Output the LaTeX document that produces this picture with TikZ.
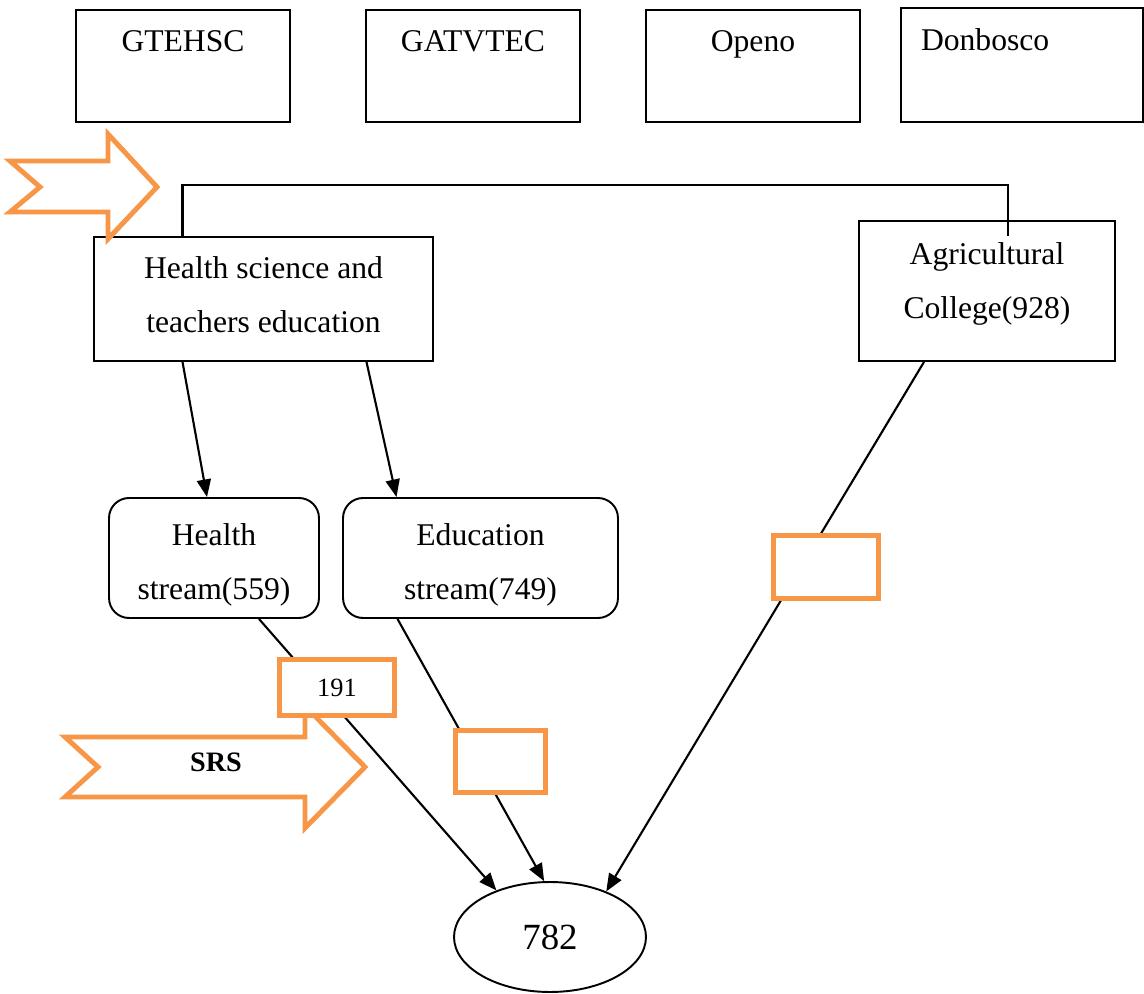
\documentclass[tikz,border=0pt]{standalone}
\usepackage{fontspec}
\setmainfont{Liberation Serif}
\usepackage{xcolor}
\usepackage{tikz}
\usetikzlibrary{arrows.meta, positioning, shapes.geometric, calc}

\definecolor{srsorange}{HTML}{F79646}

\begin{document}
\begin{tikzpicture}[x=0.02cm, y=-0.02cm,
    txt/.style={font=\fontsize{18}{31}\selectfont, align=center},
    topbox/.style={draw, line width=1.1pt, txt, inner sep=0pt, minimum width=4.28cm,
        text height=0.82cm, text depth=1.42cm},
    bigbox/.style={draw, line width=1.1pt, txt, inner sep=0pt, text depth=0.2cm},
    streambox/.style={draw, line width=1.1pt, rounded corners=0.4cm, txt, inner sep=0pt,
        minimum height=2.4cm, text height=1.88cm, text depth=0.2cm},
    obox/.style={draw=srsorange, line width=2.8pt, fill=white, inner sep=0pt,
        font=\fontsize{15}{18}\selectfont},
    chev/.style={draw=srsorange, line width=2.8pt, miter limit=10},
    arr/.style={line width=1.2pt, -{Triangle[length=10pt, width=8pt]}}]
    \useasboundingbox (0,0) rectangle (1144,994);

    % Colleges on top
    \foreach \name/\x in {GTEHSC/183, GATVTEC/473, Openo/753} {
        \node[topbox] (\name) at (\x,66) {\name};
    }
    \node[topbox, minimum width=0pt, text width=4.04cm, align=left, inner xsep=0.4cm,
        text height=0.84cm, text depth=1.44cm] (donbosco) at (1022,65) {Donbosco};

    % Selected colleges
    \node[bigbox, minimum width=6.78cm, minimum height=2.48cm, text height=1.56cm] (hsci)
        at (263.5,299) {Health science and\\teachers education};
    \node[bigbox, minimum width=5.12cm, minimum height=2.8cm, text height=1.3cm] (agr)
        at (987,291) {Agricultural\\College(928)};

    % Streams
    \node[streambox, minimum width=4.2cm] (hstream) at (214,558) {Health\\stream(559)};
    \node[streambox, minimum width=5.5cm] (estream) at (480.5,558) {Education\\stream(749)};

    % Sample
    \node[draw, ellipse, line width=1.1pt, inner sep=0pt, minimum width=3.84cm,
        minimum height=2.2cm, font=\fontsize{21}{24}\selectfont] (total) at (550,937) {782};

    % Orange arrows
    \draw[chev] (10,161) -- (108,161) -- (108,134) -- (157,187) -- (108,239) -- (108,212)
        -- (10,212) -- (40,187) -- cycle;
    \draw[chev] (65,737) -- (305,737) -- (305,706) -- (365,767) -- (305,828) -- (305,797)
        -- (65,797) -- (98,767) -- cycle;
    \node[font=\fontsize{16}{18}\selectfont\bfseries] (srs) at (216,762) {SRS};

    % Connectors
    \draw[line width=1.2pt] ($(hsci.north)+(-81,0)$) -- ++(0,-51) -| ($(agr.north)+(21,16)$);
    \draw[arr] ($(hsci.south)+(-81,0)$) -- ($(hstream.north)+(-7,0)$);
    \draw[arr] ($(hsci.south)+(103,0)$) -- ($(estream.north)+(-84,0)$);
    \draw[arr] ($(hstream.south)+(45,0)$) -- (total.139);
    \draw[arr] ($(estream.south)+(-83,0)$) -- (total.96);
    \draw[arr] ($(agr.south)+(-63,0)$) -- (total.39);

    % Sample sizes
    \node[obox, minimum width=2.3cm, minimum height=1.12cm] (s191) at (337,687.5) {191};
    \node[obox, minimum width=1.8cm, minimum height=1.24cm] (sedu) at (500.5,761.5) {};
    \node[obox, minimum width=2.1cm, minimum height=1.26cm] (sagr) at (826,567) {};
\end{tikzpicture}
\end{document}
